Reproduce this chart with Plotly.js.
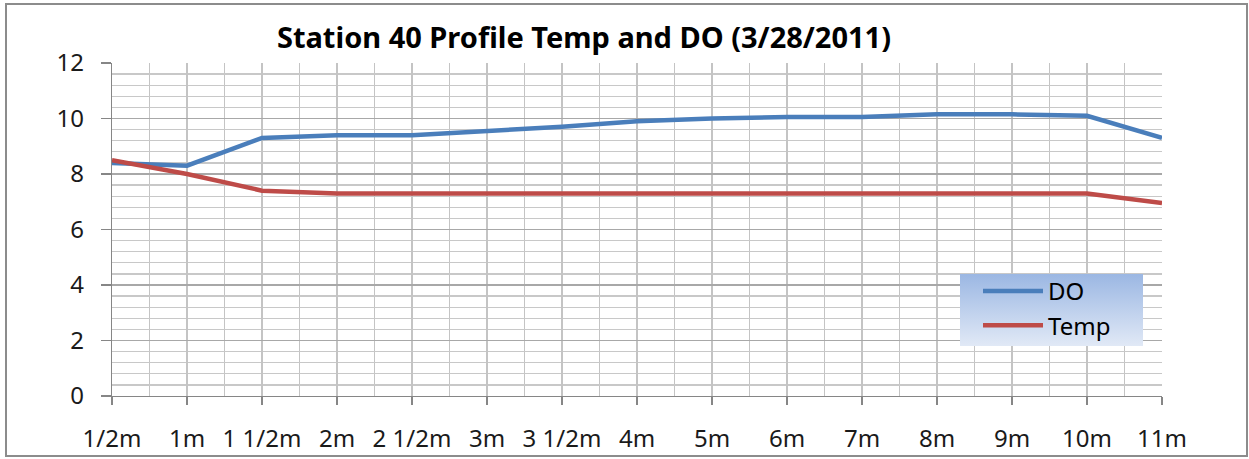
<!DOCTYPE html>
<html>
<head>
<meta charset="utf-8">
<script src="https://cdn.plot.ly/plotly-3.0.1.min.js"></script>
<style>html,body{margin:0;padding:0;background:#fff;} #chart{width:1249px;height:459px;}</style>
</head>
<body>
<div id="chart"></div>
<script>
const categories = ["1/2m","1m","1 1/2m","2m","2 1/2m","3m","3 1/2m","4m","5m","6m","7m","8m","9m","10m","11m"];
const doValues   = [8.4, 8.3, 9.3, 9.4, 9.4, 9.55, 9.7, 9.9, 10.0, 10.05, 10.05, 10.15, 10.15, 10.1, 9.3];
const tempValues = [8.5, 8.0, 7.4, 7.3, 7.3, 7.3, 7.3, 7.3, 7.3, 7.3, 7.3, 7.3, 7.3, 7.3, 6.95];
const yTicks = [0, 2, 4, 6, 8, 10, 12];
const titleText = "Station 40 Profile Temp and DO (3/28/2011)";

const idx = categories.map((_, i) => i);
const FONT = "Noto Sans, Open Sans, sans-serif";

// plot area pixel geometry
const L = 112, R = 1162, T = 63, B = 396, W = 1249, H = 459;
const px = x => (x - L) / (R - L);
const py = y => (B - y) / (B - T);

const traces = [
  {x: idx, y: doValues, name: "DO", type: "scatter", mode: "lines",
   line: {color: "#4A7EBB", width: 4.5}},
  {x: idx, y: tempValues, name: "Temp", type: "scatter", mode: "lines",
   line: {color: "#BE4B48", width: 4.5}}
];

const gradSvg = '<svg xmlns="http://www.w3.org/2000/svg" width="100" height="100" preserveAspectRatio="none">' +
  '<defs><linearGradient id="g" x1="0" y1="0" x2="0" y2="1">' +
  '<stop offset="0" stop-color="#9BB7E3"/><stop offset="1" stop-color="#E1E9F6"/></linearGradient></defs>' +
  '<rect width="100" height="100" fill="url(#g)"/></svg>';

const layout = {
  width: W, height: H,
  margin: {l: L, r: W - R, t: T, b: H - B, pad: 0},
  paper_bgcolor: "#ffffff", plot_bgcolor: "#ffffff",
  font: {family: FONT, size: 24, color: "#1a1a1a"},
  title: {text: titleText, font: {family: FONT, size: 29, weight: "bold", color: "#000"},
          x: 584 / W, xref: "container", xanchor: "center", y: 1 - 38 / H, yref: "container", yanchor: "middle"},
  showlegend: true,
  legend: {x: px(978), y: py(269), xanchor: "left", yanchor: "top", bgcolor: "rgba(0,0,0,0)",
           borderwidth: 0, font: {family: FONT, size: 24, color: "#000"}, itemwidth: 60,
           traceorder: "normal", tracegroupgap: 5},
  xaxis: {
    type: "linear", range: [0, categories.length - 1],
    tickmode: "array", tickvals: idx, ticktext: categories,
    showgrid: true, gridcolor: "#C4C4C4", gridwidth: 1.3,
    minor: {dtick: 0.5, tick0: 0, showgrid: true, gridcolor: "#C4C4C4", gridwidth: 1.3, ticks: ""},
    showline: true, linecolor: "#868686", linewidth: 1.3,
    ticks: "outside", ticklen: 8, tickcolor: "#868686", tickwidth: 1.3,
    ticklabelstandoff: 13, zeroline: false, fixedrange: true,
    tickfont: {family: FONT, size: 24, color: "#1a1a1a"}
  },
  yaxis: {
    range: [0, 12], tickmode: "array", tickvals: yTicks,
    showgrid: true, gridcolor: "#A8A8A8", gridwidth: 1.3,
    minor: {dtick: 0.4, tick0: 0, showgrid: true, gridcolor: "#C8C8C8", gridwidth: 1.3, ticks: ""},
    showline: true, linecolor: "#868686", linewidth: 1.3,
    ticks: "outside", ticklen: 10, tickcolor: "#868686", tickwidth: 1.3,
    ticklabelstandoff: 12, zeroline: false, fixedrange: true,
    tickfont: {family: FONT, size: 24, color: "#1a1a1a"}
  },
  images: [{
    source: "data:image/svg+xml;utf8," + encodeURIComponent(gradSvg),
    xref: "paper", yref: "paper", x: px(960), y: py(274),
    sizex: px(1143) - px(960), sizey: py(274) - py(346),
    xanchor: "left", yanchor: "top", sizing: "stretch", layer: "above", opacity: 1
  }],
  shapes: [
    {type: "rect", xref: "paper", yref: "paper", x0: px(6), x1: px(1247), y0: py(456), y1: py(4),
     line: {color: "#8C8C8C", width: 2}, fillcolor: "rgba(0,0,0,0)", layer: "above"}
  ]
};

Plotly.newPlot("chart", traces, layout, {staticPlot: true, displayModeBar: false});
</script>
</body>
</html>
